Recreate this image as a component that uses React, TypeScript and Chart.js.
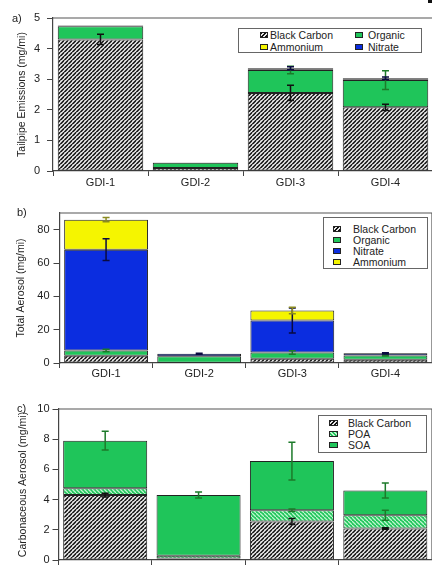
import React, { useEffect, useRef } from "react";
import { Chart, registerables } from "chart.js";
Chart.register(...registerables);

// ---------- data ----------
const categories = ["GDI-1", "GDI-2", "GDI-3", "GDI-4"];

// panel a) Tailpipe emissions (mg/mi)
const aBlackCarbon = [4.3, 0.1, 2.55, 2.08];
const aOrganic = [0.43, 0.17, 0.75, 0.89];
const aAmmonium = [0.005, 0.003, 0.01, 0.01];
const aNitrate = [0.02, 0.005, 0.05, 0.05];
const aBlackCarbonErr = [0.17, 0, 0.25, 0.1];
const aOrganicErr = [0, 0, 0.12, 0.31];
const aAmmoniumErr = [0, 0, 0, 0];
const aNitrateErr = [0, 0, 0.05, 0.04];
const aTicks = [0, 1, 2, 3, 4, 5];

// panel b) Total aerosol (mg/mi)
const bBlackCarbon = [4.3, 0.2, 2.5, 2.0];
const bOrganic = [3.2, 3.8, 3.8, 2.5];
const bNitrate = [60.5, 1.5, 19.2, 1.3];
const bAmmonium = [18, 0.1, 6, 0.2];
const bBlackCarbonErr = [0, 0, 0, 0];
const bOrganicErr = [0.7, 0, 1.0, 0.3];
const bNitrateErr = [6.5, 0.3, 7.5, 0.4];
const bAmmoniumErr = [1.3, 0, 2.0, 0];
const bTicks = [0, 20, 40, 60, 80];

// panel c) Carbonaceous aerosol (mg/mi)
const cBlackCarbon = [4.3, 0.1, 2.55, 2.08];
const cPOA = [0.45, 0.18, 0.75, 0.89];
const cSOA = [3.15, 4.02, 3.25, 1.63];
const cBlackCarbonErr = [0.12, 0, 0.2, 0.05];
const cPOAErr = [0, 0, 0.08, 0.33];
const cSOAErr = [0.62, 0.2, 1.25, 0.5];
const cTicks = [0, 2, 4, 6, 8, 10];

// ---------- styles ----------
const GREEN = "#1fc55a";
const BLUE = "#0b2de0";
const YELLOW = "#f5f500";
const EDGE = "#222";
const FONT = "'Liberation Sans', Arial, Helvetica, sans-serif";

function hatch(bg: string, fg: string, size: number, lw: number, back: boolean) {
  const c = document.createElement("canvas");
  c.width = size;
  c.height = size;
  const g = c.getContext("2d")!;
  g.fillStyle = bg;
  g.fillRect(0, 0, size, size);
  g.strokeStyle = fg;
  g.lineWidth = lw;
  g.beginPath();
  if (!back) {
    g.moveTo(0, size); g.lineTo(size, 0);
    g.moveTo(-size / 2, size / 2); g.lineTo(size / 2, -size / 2);
    g.moveTo(size / 2, size * 1.5); g.lineTo(size * 1.5, size / 2);
  } else {
    g.moveTo(0, 0); g.lineTo(size, size);
    g.moveTo(-size / 2, size / 2); g.lineTo(size / 2, size * 1.5);
    g.moveTo(size / 2, -size / 2); g.lineTo(size * 1.5, size / 2);
  }
  g.stroke();
  return g.createPattern(c, "repeat")!;
}

const errorBarPlugin = {
  id: "errbars",
  afterDatasetsDraw(chart: any) {
    const { ctx } = chart;
    const y = chart.scales.y;
    const dss = chart.data.datasets;
    ctx.save();
    dss.forEach((ds: any, i: number) => {
      const errs = ds.errors as number[];
      if (!errs) return;
      const meta = chart.getDatasetMeta(i);
      meta.data.forEach((bar: any, j: number) => {
        const err = errs[j];
        if (!err) return;
        let top = 0;
        for (let k = 0; k <= i; k++) top += dss[k].data[j];
        const x = bar.x;
        const y1 = y.getPixelForValue(top - err);
        const y2 = y.getPixelForValue(top + err);
        ctx.strokeStyle = ds.errColor;
        ctx.lineWidth = 1.5;
        ctx.beginPath();
        ctx.moveTo(x, y1); ctx.lineTo(x, y2);
        ctx.moveTo(x - 3.5, y1); ctx.lineTo(x + 3.5, y1);
        ctx.moveTo(x - 3.5, y2); ctx.lineTo(x + 3.5, y2);
        ctx.stroke();
      });
    });
    ctx.restore();
  },
};

const framePlugin = {
  id: "frame",
  afterDatasetsDraw(chart: any) {
    const { ctx, chartArea: a } = chart;
    ctx.save();
    ctx.strokeStyle = "#555";
    ctx.lineWidth = 1.2;
    ctx.beginPath();
    ctx.moveTo(a.left, a.top);
    ctx.lineTo(a.right, a.top);
    ctx.lineTo(a.right, a.bottom);
    ctx.stroke();
    ctx.restore();
  },
};

interface PanelCfg {
  datasets: any[];
  max: number;
  ticks: number[];
  title: string;
  yWidth: number;
  xHeight: number;
  padTop: number;
  tickPad: number;
  titlePad: number;
  xPad: number;
}

function makeChart(canvas: HTMLCanvasElement, p: PanelCfg) {
  return new Chart(canvas, {
    type: "bar",
    data: {
      labels: categories,
      datasets: p.datasets.map((d) => ({
        borderColor: EDGE,
        borderWidth: 1,
        borderSkipped: false,
        barPercentage: 0.9,
        categoryPercentage: 1,
        ...d,
      })),
    },
    options: {
      responsive: false,
      animation: false,
      devicePixelRatio: 1,
      layout: { padding: { top: p.padTop, left: 0, right: 0, bottom: 0 } },
      plugins: { legend: { display: false }, tooltip: { enabled: false } },
      scales: {
        x: {
          stacked: true,
          offset: true,
          grid: { display: true, drawOnChartArea: false, drawTicks: true, tickLength: 5, color: "#444", offset: true },
          border: { display: true, color: "#444", width: 1.2 },
          ticks: { color: "#222", font: { size: 11, family: FONT }, padding: p.xPad },
          afterFit: (s: any) => { s.height = p.xHeight; },
        },
        y: {
          stacked: true,
          min: 0,
          max: p.max,
          afterBuildTicks: (s: any) => { s.ticks = p.ticks.map((v) => ({ value: v })); },
          grid: { drawOnChartArea: false, drawTicks: true, tickLength: 6, color: "#444" },
          border: { display: true, color: "#444", width: 1.2 },
          ticks: { color: "#222", font: { size: 11, family: FONT }, padding: p.tickPad },
          title: {
            display: true,
            text: p.title,
            color: "#222",
            font: { size: 10.5, family: FONT },
            padding: { top: p.titlePad, bottom: 0 },
          },
          afterFit: (s: any) => { s.width = p.yWidth; },
        },
      },
    } as any,
    plugins: [errorBarPlugin, framePlugin],
  });
}

const BC_CSS = "repeating-linear-gradient(135deg, #111 0 1.3px, #e8e8e8 1.3px 2.8px)";
const POA_CSS = "repeating-linear-gradient(45deg, #bff5cf 0 1.3px, " + GREEN + " 1.3px 2.8px)";

const txt: React.CSSProperties = {
  position: "absolute",
  fontFamily: FONT,
  fontSize: 10.5,
  lineHeight: "12px",
  color: "#222",
  whiteSpace: "nowrap",
};

function Item({ x, tx, y, bg, label, w = 8, h = 6 }: any) {
  return (
    <>
      <div style={{ position: "absolute", left: x, top: y - h / 2, width: w, height: h, background: bg, border: "1px solid #222", boxSizing: "border-box" }} />
      <div style={{ ...txt, left: tx, top: y - 6 }}>{label}</div>
    </>
  );
}

function Box({ l, t, w, h }: any) {
  return <div style={{ position: "absolute", left: l, top: t, width: w, height: h, border: "1.3px solid #666", background: "#fff", boxSizing: "border-box" }} />;
}

export default function App() {
  const ra = useRef<HTMLCanvasElement>(null);
  const rb = useRef<HTMLCanvasElement>(null);
  const rc = useRef<HTMLCanvasElement>(null);

  useEffect(() => {
    Chart.defaults.font.family = FONT;
    const bcPat = hatch("#e8e8e8", "#111", 4.5, 1.5, false);
    const poaPat = hatch(GREEN, "#bff5cf", 4.5, 1.3, true);

    const ca = makeChart(ra.current!, {
      datasets: [
        { label: "Black Carbon", data: aBlackCarbon, backgroundColor: bcPat, errors: aBlackCarbonErr, errColor: "#111" },
        { label: "Organic", data: aOrganic, backgroundColor: GREEN, errors: aOrganicErr, errColor: "#1d7a2a" },
        { label: "Ammonium", data: aAmmonium, backgroundColor: YELLOW, errors: aAmmoniumErr, errColor: "#8a8a20" },
        { label: "Nitrate", data: aNitrate, backgroundColor: BLUE, errors: aNitrateErr, errColor: "#0a0a40" },
      ],
      max: 5, ticks: aTicks, title: "Tailpipe Emissions (mg/mi)",
      yWidth: 53, xHeight: 24, padTop: 18, tickPad: 7, titlePad: 15.7, xPad: 0,
    });
    const cb = makeChart(rb.current!, {
      datasets: [
        { label: "Black Carbon", data: bBlackCarbon, backgroundColor: bcPat, errors: bBlackCarbonErr, errColor: "#111" },
        { label: "Organic", data: bOrganic, backgroundColor: GREEN, errors: bOrganicErr, errColor: "#1d7a2a" },
        { label: "Nitrate", data: bNitrate, backgroundColor: BLUE, errors: bNitrateErr, errColor: "#0a0a40" },
        { label: "Ammonium", data: bAmmonium, backgroundColor: YELLOW, errors: bAmmoniumErr, errColor: "#8a8a20" },
      ],
      max: 90, ticks: bTicks, title: "Total Aerosol (mg/mi)",
      yWidth: 59.5, xHeight: 22, padTop: 18, tickPad: 4, titlePad: 14.7, xPad: -1,
    });
    const cc = makeChart(rc.current!, {
      datasets: [
        { label: "Black Carbon", data: cBlackCarbon, backgroundColor: bcPat, errors: cBlackCarbonErr, errColor: "#111" },
        { label: "POA", data: cPOA, backgroundColor: poaPat, errors: cPOAErr, errColor: "#1d7a2a" },
        { label: "SOA", data: cSOA, backgroundColor: GREEN, errors: cSOAErr, errColor: "#1d7a2a" },
      ],
      max: 10, ticks: cTicks, title: "Carbonaceous Aerosol (mg/mi)",
      yWidth: 58.5, xHeight: 25, padTop: 24, tickPad: 3, titlePad: 16.7, xPad: 0,
    });
    return () => { ca.destroy(); cb.destroy(); cc.destroy(); };
  }, []);

  const cv: React.CSSProperties = { position: "absolute", left: 0, display: "block" };
  const lab: React.CSSProperties = { ...txt, fontSize: 11 };

  return (
    <div style={{ position: "absolute", left: 0, top: 0, width: 432, height: 565, overflow: "hidden", background: "#fff" }}>
      <canvas ref={ra} width={433} height={195} style={{ ...cv, top: 0 }} />
      <canvas ref={rb} width={432} height={190} style={{ ...cv, top: 195 }} />
      <canvas ref={rc} width={432} height={200} style={{ ...cv, top: 385 }} />

      <div style={{ position: "absolute", left: 428, top: 0, width: 4, height: 3, background: "#111" }} />

      <div style={{ ...lab, left: 12, top: 12 }}>a)</div>
      <div style={{ ...lab, left: 17, top: 206 }}>b)</div>
      <div style={{ ...lab, left: 17, top: 402 }}>c)</div>

      {/* legend a */}
      <Box l={238} t={28} w={184} h={25} />
      <Item x={260} tx={270} y={35} bg={BC_CSS} label="Black Carbon" />
      <Item x={355} tx={368} y={35} bg={GREEN} label="Organic" />
      <Item x={260} tx={270} y={47} bg={YELLOW} label="Ammonium" />
      <Item x={355} tx={368} y={47} bg={BLUE} label="Nitrate" />

      {/* legend b */}
      <Box l={323} t={217} w={105} h={52} />
      <Item x={333} tx={353} y={229} bg={BC_CSS} label="Black Carbon" />
      <Item x={333} tx={353} y={240} bg={GREEN} label="Organic" />
      <Item x={333} tx={353} y={251} bg={BLUE} label="Nitrate" />
      <Item x={333} tx={353} y={262} bg={YELLOW} label="Ammonium" />

      {/* legend c */}
      <Box l={318} t={415} w={109} h={38} />
      <Item x={329} tx={348} y={423} bg={BC_CSS} label="Black Carbon" w={9} />
      <Item x={329} tx={348} y={434} bg={POA_CSS} label="POA" w={9} />
      <Item x={329} tx={348} y={445} bg={GREEN} label="SOA" w={9} />
    </div>
  );
}
